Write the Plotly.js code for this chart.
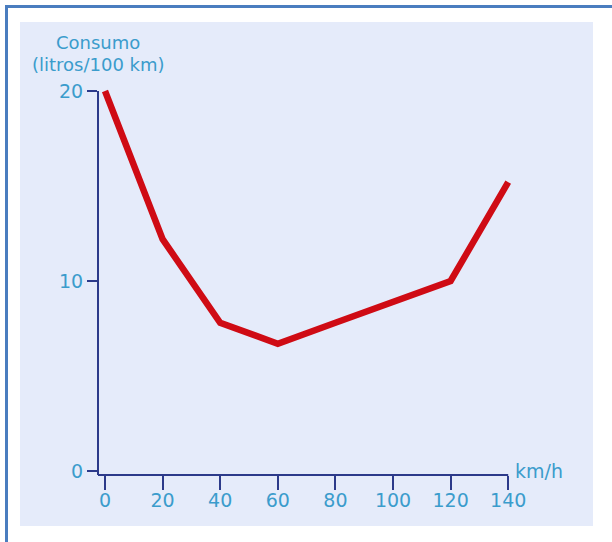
<!DOCTYPE html>
<html>
<head>
<meta charset="utf-8">
<script src="https://cdn.plot.ly/plotly-3.0.1.min.js"></script>
<style>html,body{margin:0;padding:0;background:#fff;}#chart{width:612px;height:542px;}</style>
</head>
<body>
<div id="chart"></div>
<script>
const speeds = [0, 20, 40, 60, 80, 100, 120, 140];
const consumption = [20, 12.2, 7.8, 6.7, 7.8, 8.9, 10, 15.2];
const xTicks = [0, 20, 40, 60, 80, 100, 120, 140];
const yTicks = [0, 10, 20];
const yTitleLine1 = "Consumo";
const yTitleLine2 = "(litros/100 km)";
const xUnit = "km/h";

// plot area in pixels (slightly larger than the axes so the thick line is not clipped)
const L = 98, R = 514, T = 85, B = 475;
const W = R - L, H = B - T;
const px = X => (X - L) / W;
const py = Y => (B - Y) / H;
const xPerPx = 20 / 57.6, yPerPx = 10 / 190;

const tickColor = "#3b9ccc";
const axisColor = "#2c3a8a";
const font = "DejaVu Sans, Verdana, sans-serif";

const shapes = [
  {type:"rect", xref:"paper", yref:"paper", x0:px(5), x1:px(640), y0:py(5), y1:py(600),
   line:{width:0}, fillcolor:"#4a7dbf", layer:"below"},
  {type:"rect", xref:"paper", yref:"paper", x0:px(8), x1:px(640), y0:py(8), y1:py(600),
   line:{width:0}, fillcolor:"#ffffff", layer:"below"},
  {type:"rect", xref:"paper", yref:"paper", x0:px(20), x1:px(593), y0:py(22), y1:py(526),
   line:{width:0}, fillcolor:"#e5ebfa", layer:"below"},
  // axis lines, ending at the last ticks
  {type:"line", xref:"paper", yref:"y", x0:0, x1:0, y0:-(B - 471) * yPerPx, y1:yTicks[yTicks.length-1],
   line:{color:axisColor, width:2}, layer:"above"},
  {type:"line", xref:"x", yref:"paper", x0:-(105 - L) * xPerPx, x1:xTicks[xTicks.length-1], y0:0, y1:0,
   line:{color:axisColor, width:2}, layer:"above"}
];

const data = [{
  x: speeds, y: consumption, type: "scatter", mode: "lines",
  line: {color: "#cf0b14", width: 6.5}, hoverinfo: "skip"
}];

const layout = {
  width: 612, height: 542,
  margin: {l: L, r: 612 - R, t: T, b: 542 - B, pad: 0},
  paper_bgcolor: "#ffffff", plot_bgcolor: "rgba(0,0,0,0)",
  showlegend: false,
  xaxis: {
    range: [-(105 - L) * xPerPx, -(105 - L) * xPerPx + W * xPerPx], tickmode: "array", tickvals: xTicks,
    ticktext: xTicks.map(String), showgrid: false, zeroline: false, showline: false,
    ticks: "outside", ticklen: 14, tickwidth: 2, tickcolor: axisColor,
    ticklabelstandoff: -6,
    tickfont: {family: font, size: 19, color: tickColor},
    fixedrange: true
  },
  yaxis: {
    range: [-(B - 471) * yPerPx, -(B - 471) * yPerPx + H * yPerPx], tickmode: "array", tickvals: yTicks,
    ticktext: yTicks.map(String), showgrid: false, zeroline: false, showline: false,
    ticks: "outside", ticklen: 10, tickwidth: 2, tickcolor: axisColor,
    tickfont: {family: font, size: 19, color: tickColor},
    fixedrange: true
  },
  shapes: shapes,
  annotations: [
    {xref:"paper", yref:"paper", x: px(98), y: py(43), text: yTitleLine1, showarrow:false,
     xanchor:"center", yanchor:"middle",
     font:{family:font, size:18, color: tickColor}},
    {xref:"paper", yref:"paper", x: px(98), y: py(65), text: yTitleLine2, showarrow:false,
     xanchor:"center", yanchor:"middle",
     font:{family:font, size:18, color: tickColor}},
    {xref:"paper", yref:"paper", x: px(513), y: py(471), text: xUnit, showarrow:false,
     xanchor:"left", yanchor:"middle",
     font:{family:font, size:19, color: tickColor}}
  ]
};

Plotly.newPlot("chart", data, layout, {displayModeBar: false, staticPlot: true});
</script>
</body>
</html>
